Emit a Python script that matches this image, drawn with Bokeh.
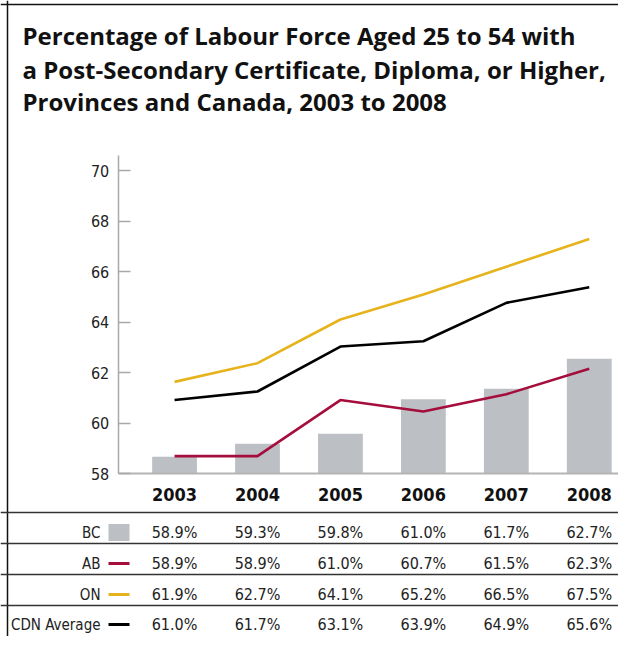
from bokeh.plotting import figure
from bokeh.models import Range1d, LinearAxis, FixedTicker, Span, Label
from bokeh.core.properties import value
from bokeh.embed import file_html
from bokeh.resources import INLINE

# ---------------- data ----------------
years = ["2003", "2004", "2005", "2006", "2007", "2008"]
# values as plotted
bc_plot = [58.68, 59.19, 59.59, 60.95, 61.37, 62.56]
ab_plot = [58.70, 58.70, 60.92, 60.47, 61.15, 62.16]
on_plot = [61.64, 62.38, 64.11, 65.10, 66.20, 67.30]
cdn_plot = [60.92, 61.26, 63.04, 63.25, 64.77, 65.39]
# values as printed in the table
bc_labels = ["58.9%", "59.3%", "59.8%", "61.0%", "61.7%", "62.7%"]
ab_labels = ["58.9%", "58.9%", "61.0%", "60.7%", "61.5%", "62.3%"]
on_labels = ["61.9%", "62.7%", "64.1%", "65.2%", "66.5%", "67.5%"]
cdn_labels = ["61.0%", "61.7%", "63.1%", "63.9%", "64.9%", "65.6%"]
row_names = ["BC", "AB", "ON", "CDN Average"]
y_ticks = [58, 60, 62, 64, 66, 68, 70]
title_lines = ["Percentage of Labour Force Aged 25 to 54 with",
               "a Post-Secondary Certificate, Diploma, or Higher,",
               "Provinces and Canada, 2003 to 2008"]

# ---------------- colours / fonts ----------------
GRAY = "#bcc0c4"
RED = "#a50d3c"
GOLD = "#e6b31c"
BLACK = "#000000"
NARROW = "'DejaVu Sans Condensed', 'DejaVu Sans', sans-serif"
TITLE_FONT = "Open Sans"

# ---------------- canvas-pixel helpers (layout only) ----------------
X_C0, X_STEP = 174.05, 82.94     # pixel x of first category, spacing
Y_BASE, Y_STEP = 473.3, 25.25    # pixel y of value 58, px per unit


def xd(px):
    return (px - X_C0) / X_STEP


def yd(py):
    return 58 - (py - Y_BASE) / Y_STEP


W, H = 618, 636
p = figure(width=W, height=H, output_backend="svg", toolbar_location=None,
           x_range=Range1d(xd(0), xd(W)), y_range=Range1d(yd(H), yd(0)),
           x_axis_type=None, y_axis_type=None, min_border=0)
p.outline_line_color = None
p.background_fill_color = "white"
p.border_fill_color = "white"

idx = list(range(len(years)))

# bars and lines
p.vbar(x=idx, top=bc_plot, bottom=58, width=0.54, fill_color=GRAY, line_color=None)
p.line(idx, ab_plot, line_color=RED, line_width=2.6)
p.line(idx, on_plot, line_color=GOLD, line_width=2.6)
p.line(idx, cdn_plot, line_color=BLACK, line_width=2.6)

# y axis
yax = LinearAxis(fixed_location=xd(117.7), bounds=(58, 70.6),
                 ticker=FixedTicker(ticks=y_ticks),
                 axis_line_color="#a9a9a9", axis_line_width=1.5,
                 major_tick_in=12, major_tick_out=0,
                 major_tick_line_color="#a9a9a9", major_tick_line_width=1.5,
                 minor_tick_line_color=None,
                 major_label_text_font=NARROW, major_label_text_font_size="16px",
                 major_label_text_color="#222222", major_label_standoff=9)
p.add_layout(yax, "left")

# x axis (years)
xax = LinearAxis(fixed_location=58, bounds=(xd(117.7), xd(640)),
                 ticker=FixedTicker(ticks=idx),
                 major_label_overrides={i: y for i, y in enumerate(years)},
                 axis_line_color="#b4b4b4", axis_line_width=2,
                 major_tick_in=0, major_tick_out=0, minor_tick_line_color=None,
                 major_label_text_font=NARROW, major_label_text_font_size="18px",
                 major_label_text_font_style="bold", major_label_text_color="#111111",
                 major_label_standoff=14)
p.add_layout(xax, "below")

# frame borders (left, top)
p.add_layout(Span(location=xd(7), dimension="height", line_color="#111111", line_width=1.5))
p.add_layout(Span(location=yd(4), dimension="width", line_color="#111111", line_width=1.5))

# table rule lines
for ly in [512, 543, 574, 605]:
    p.add_layout(Span(location=yd(ly), dimension="width", line_color="#333333", line_width=1.5))

# table rows
row_y = [532, 563, 594, 624]
all_labels = [bc_labels, ab_labels, on_labels, cdn_labels]
for ry, labs in zip(row_y, all_labels):
    p.text(x=idx, y=[yd(ry)] * len(idx), text=labs, text_align="center",
           text_baseline="middle", text_font=value(NARROW), text_font_size="16px",
           text_color="#222222")
p.text(x=[xd(100)] * 4, y=[yd(r) for r in row_y], text=row_names, text_align="right",
       text_baseline="middle", text_font=value(NARROW), text_font_size="15px",
       text_color="#222222")

# legend keys in the table
p.rect(x=[xd(118.5)], y=[yd(532)], width=21, height=17, width_units="screen",
       height_units="screen", fill_color=GRAY, line_color=None)
for ry, col in zip(row_y[1:], [RED, GOLD, BLACK]):
    p.segment(x0=[xd(108)], x1=[xd(129)], y0=[yd(ry)], y1=[yd(ry)],
              line_color=col, line_width=3)

# title
for ty, t in zip([35, 69, 101], title_lines):
    p.add_layout(Label(x=xd(22), y=yd(ty), text=t, text_font=TITLE_FONT,
                       text_font_size="24px", text_font_style="bold",
                       text_color="#111111", text_baseline="alphabetic"))

open("out.html", "w").write(file_html(p, INLINE))
